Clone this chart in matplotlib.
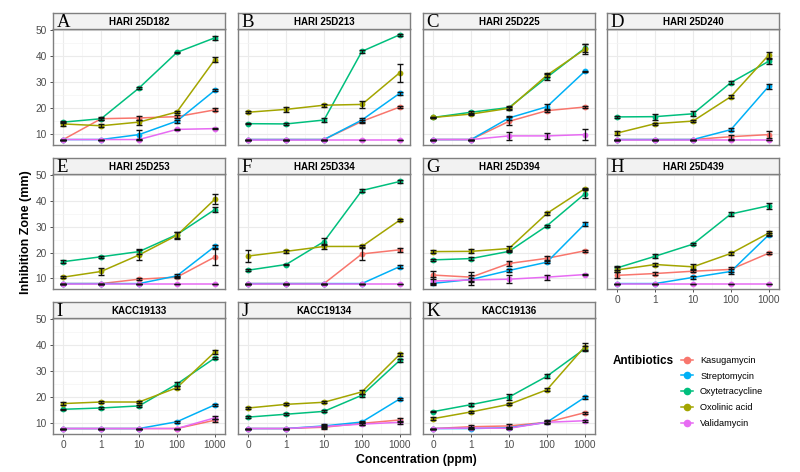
import numpy as np
import matplotlib
matplotlib.use('Agg')
import matplotlib.pyplot as plt
from matplotlib.lines import Line2D

# ---- data -------------------------------------------------------------
conc_labels = ['0', '1', '10', '100', '1000']
panel_letters = ['A', 'B', 'C', 'D', 'E', 'F', 'G', 'H', 'I', 'J', 'K']
strain_names = ['HARI 25D182', 'HARI 25D213', 'HARI 25D225', 'HARI 25D240',
                'HARI 25D253', 'HARI 25D334', 'HARI 25D394', 'HARI 25D439',
                'KACC19133', 'KACC19134', 'KACC19136']
antibiotics = ['Kasugamycin', 'Streptomycin', 'Oxytetracycline',
               'Oxolinic acid', 'Validamycin']

# mean inhibition zone (mm), one row per strain
kasugamycin = [
    [8.0, 16.0, 16.3, 16.8, 19.4],
    [8.0, 8.0, 8.0, 15.0, 20.5],
    [8.0, 8.0, 15.0, 19.1, 20.5],
    [8.0, 8.0, 8.0, 9.1, 9.9],
    [8.0, 8.0, 9.7, 10.5, 18.3],
    [8.0, 8.0, 8.0, 19.5, 21.1],
    [11.3, 10.5, 15.8, 17.8, 20.7],
    [11.2, 11.9, 12.8, 13.5, 19.8],
    [8.0, 8.0, 8.0, 8.0, 11.2],
    [8.0, 8.0, 8.5, 10.0, 11.3],
    [8.0, 8.7, 9.0, 10.4, 14.1],
]
streptomycin = [
    [8.0, 8.0, 9.9, 15.1, 26.9],
    [8.0, 8.0, 8.0, 15.5, 25.8],
    [8.0, 8.0, 16.3, 20.6, 34.2],
    [8.0, 8.0, 8.0, 11.8, 28.5],
    [8.0, 8.0, 8.0, 11.0, 22.4],
    [8.0, 8.0, 8.0, 8.0, 14.6],
    [8.1, 9.6, 13.1, 16.3, 31.1],
    [8.0, 8.0, 10.4, 12.7, 26.9],
    [8.0, 8.0, 8.0, 10.6, 17.1],
    [8.0, 8.0, 9.0, 10.5, 19.4],
    [8.0, 8.0, 8.3, 10.4, 20.0],
]
oxytetracycline = [
    [14.7, 16.0, 27.8, 41.5, 47.1],
    [14.1, 14.0, 15.5, 41.9, 48.3],
    [16.5, 18.5, 20.3, 31.9, 43.1],
    [16.7, 16.8, 17.9, 29.9, 38.1],
    [16.5, 18.4, 20.4, 27.0, 36.7],
    [13.2, 15.4, 24.3, 44.1, 47.6],
    [17.2, 17.7, 20.5, 30.4, 42.8],
    [14.1, 18.6, 23.3, 35.0, 38.2],
    [15.4, 15.9, 16.7, 25.1, 35.1],
    [12.4, 13.5, 14.6, 20.8, 34.2],
    [14.5, 17.2, 20.1, 28.1, 38.7],
]
oxolinic_acid = [
    [14.0, 13.3, 14.7, 18.6, 38.7],
    [18.5, 19.6, 21.2, 21.5, 33.7],
    [16.5, 17.8, 20.0, 32.7, 42.7],
    [10.5, 14.1, 15.1, 24.5, 40.5],
    [10.5, 12.7, 19.1, 26.7, 40.7],
    [18.7, 20.5, 22.4, 22.4, 32.6],
    [20.4, 20.5, 21.6, 35.2, 44.8],
    [13.3, 15.4, 14.5, 19.7, 27.6],
    [17.6, 18.2, 18.2, 23.7, 37.4],
    [15.9, 17.3, 18.1, 22.1, 36.5],
    [11.8, 14.4, 17.3, 22.9, 39.5],
]
validamycin = [
    [8.0, 8.0, 8.0, 11.9, 12.2],
    [8.0, 8.0, 8.0, 8.0, 8.0],
    [8.0, 8.0, 9.4, 9.4, 9.9],
    [8.0, 8.0, 8.0, 8.0, 8.0],
    [8.0, 8.0, 8.0, 8.0, 8.0],
    [8.0, 8.0, 8.0, 8.0, 8.0],
    [9.0, 9.4, 9.7, 10.5, 11.5],
    [8.0, 8.0, 8.0, 8.0, 8.0],
    [8.0, 8.0, 8.0, 8.0, 12.1],
    [8.0, 8.0, 8.8, 9.7, 10.4],
    [8.0, 8.2, 8.1, 10.4, 11.0],
]

# standard errors (mm)
kasugamycin_err = [
    [0.0, 0.5, 0.8, 0.7, 0.6], [0.0, 0.0, 0.0, 0.6, 0.3],
    [0.0, 0.0, 1.5, 0.4, 0.3], [0.0, 0.0, 0.0, 0.8, 1.4],
    [0.0, 0.0, 0.4, 0.5, 3.0], [0.0, 0.0, 0.0, 2.5, 0.8],
    [1.5, 2.0, 1.0, 0.8, 0.3], [1.2, 0.5, 0.5, 1.0, 0.3],
    [0.0, 0.0, 0.0, 0.0, 0.6], [0.0, 0.0, 0.4, 0.5, 0.6],
    [0.0, 0.6, 0.8, 0.4, 0.4],
]
streptomycin_err = [
    [0.0, 0.0, 1.8, 0.6, 0.4], [0.0, 0.0, 0.0, 0.6, 0.5],
    [0.0, 0.0, 0.8, 1.0, 0.3], [0.0, 0.0, 0.0, 0.6, 0.9],
    [0.0, 0.0, 0.0, 0.6, 0.5], [0.0, 0.0, 0.0, 0.0, 0.6],
    [0.3, 0.6, 0.6, 0.5, 0.8], [0.0, 0.0, 0.5, 0.8, 0.6],
    [0.0, 0.0, 0.0, 0.4, 0.4], [0.0, 0.0, 0.4, 0.5, 0.5],
    [0.0, 0.0, 0.4, 0.8, 0.5],
]
oxytetracycline_err = [
    [0.5, 0.3, 0.5, 0.3, 0.7], [0.3, 0.4, 0.7, 0.6, 0.3],
    [0.3, 0.5, 0.6, 1.2, 1.6], [0.3, 1.2, 1.0, 0.6, 1.0],
    [0.5, 0.4, 1.0, 1.2, 1.0], [0.3, 0.3, 1.2, 0.4, 0.6],
    [0.4, 0.5, 0.4, 0.4, 1.8], [0.8, 0.8, 0.4, 0.6, 1.2],
    [0.3, 0.4, 0.4, 0.8, 0.5], [0.4, 0.4, 0.4, 0.6, 0.5],
    [0.3, 0.5, 1.2, 0.8, 1.0],
]
oxolinic_acid_err = [
    [0.8, 0.6, 1.0, 0.5, 0.9], [0.4, 1.0, 0.5, 1.2, 3.5],
    [0.3, 0.5, 0.5, 0.8, 2.0], [0.8, 0.4, 0.5, 0.6, 1.0],
    [0.4, 1.5, 2.0, 1.5, 2.0], [2.3, 0.5, 1.0, 0.6, 0.3],
    [0.5, 0.8, 1.0, 0.5, 0.4], [1.0, 0.5, 1.0, 0.6, 0.8],
    [0.5, 0.4, 0.5, 0.6, 0.8], [0.4, 0.4, 0.4, 0.8, 0.5],
    [0.5, 0.4, 0.4, 0.5, 1.3],
]
validamycin_err = [
    [0.0, 0.0, 0.0, 0.3, 0.3], [0.0, 0.0, 0.0, 0.0, 0.0],
    [0.0, 0.0, 1.5, 1.3, 2.0], [0.0, 0.0, 0.0, 0.0, 0.0],
    [0.0, 0.0, 0.0, 0.0, 0.0], [0.0, 0.0, 0.0, 0.0, 0.0],
    [1.5, 2.0, 1.5, 1.0, 0.3], [0.0, 0.0, 0.0, 0.0, 0.0],
    [0.0, 0.0, 0.0, 0.0, 0.6], [0.0, 0.0, 1.0, 0.5, 0.5],
    [0.0, 0.3, 0.3, 0.4, 0.3],
]

series = [kasugamycin, streptomycin, oxytetracycline, oxolinic_acid, validamycin]
series_err = [kasugamycin_err, streptomycin_err, oxytetracycline_err,
              oxolinic_acid_err, validamycin_err]
colors = ['#F8766D', '#00B0F6', '#00BF7D', '#A3A500', '#E76BF3']

### ===========================================================================

plt.rcParams['font.family'] = ['Liberation Sans', 'DejaVu Sans']
W, H = 800, 472
fig = plt.figure(figsize=(W / 100, H / 100), dpi=100)

col_left = [53, 238, 423, 607]
row_top = [29, 174, 318]
row_bottom = [145, 289, 434]
panel_w = 172
strip_h = 16
border = '#7F7F7F'

x = np.arange(len(conc_labels))

for i, name in enumerate(strain_names):
    r, c = divmod(i, 4)
    l, t, b = col_left[c], row_top[r], row_bottom[r]
    ax = fig.add_axes([l / W, 1 - b / H, panel_w / W, (b - t) / H])

    for vals, errs, col in zip(series, series_err, colors):
        ax.plot(x, vals[i], color=col, lw=1.1, zorder=3)
        ax.plot(x, vals[i], 'o', color=col, ms=4.2, mew=0, zorder=4)
        ax.errorbar(x, vals[i], yerr=errs[i], fmt='none', ecolor='#111111',
                    elinewidth=0.9, capsize=2.5, capthick=1.0, zorder=5)

    ax.set_xlim(-0.27, 4.27)
    ax.set_ylim(5.9, 50.5)
    ax.set_xticks(x)
    ax.set_xticks(x[:-1] + 0.5, minor=True)
    ax.set_yticks([10, 20, 30, 40, 50])
    ax.set_yticks([15, 25, 35, 45], minor=True)
    ax.grid(which='major', color='#EBEBEB', lw=0.8)
    ax.grid(which='minor', color='#F4F4F4', lw=0.5)
    ax.set_axisbelow(True)
    for s in ax.spines.values():
        s.set_color(border)
        s.set_linewidth(1.0)
    ax.tick_params(which='minor', length=0)
    ax.tick_params(which='major', length=2.5, width=0.6, color='#333333',
                   labelsize=7.3, labelcolor='#4D4D4D', pad=2)

    show_x = (r == 2) or (i == 7)
    show_y = (c == 0)
    if show_x:
        ax.set_xticklabels(conc_labels)
    else:
        ax.tick_params(axis='x', which='major', length=0, labelbottom=False)
    if not show_y:
        ax.tick_params(axis='y', which='major', length=0, labelleft=False)

    # facet strip
    sax = fig.add_axes([l / W, 1 - t / H, panel_w / W, strip_h / H])
    sax.set_facecolor('#F2F2F2')
    sax.set_xticks([])
    sax.set_yticks([])
    for s in sax.spines.values():
        s.set_color(border)
        s.set_linewidth(1.0)
    sax.text(0.5, 0.45, name, ha='center', va='center', fontsize=7,
             fontweight='bold', transform=sax.transAxes)
    sax.text(0.02, 0.4, panel_letters[i], ha='left', va='center',
             fontsize=13.5, family='Liberation Serif', transform=sax.transAxes)

fig.text(26 / W, 1 - 232 / H, 'Inhibition Zone (mm)', rotation=90,
         ha='center', va='center', fontsize=9, fontweight='bold')
fig.text(416 / W, 1 - 460 / H, 'Concentration (ppm)', ha='center',
         va='center', fontsize=8.8, fontweight='bold')

# legend
handles = [Line2D([0], [0], color=col, lw=1.1, marker='o', ms=5.5, mew=0)
           for col in colors]
fig.text(613 / W, 1 - 361 / H, 'Antibiotics', ha='left', va='center',
         fontsize=8.5, fontweight='bold')
fig.legend(handles, antibiotics, loc='upper left',
           bbox_to_anchor=(681 / W, 1 - 356 / H), frameon=False,
           fontsize=6.7, handlelength=1.25, handletextpad=0.8,
           labelspacing=0.72, borderaxespad=0, borderpad=0)

fig.savefig('out.png', dpi=100)
